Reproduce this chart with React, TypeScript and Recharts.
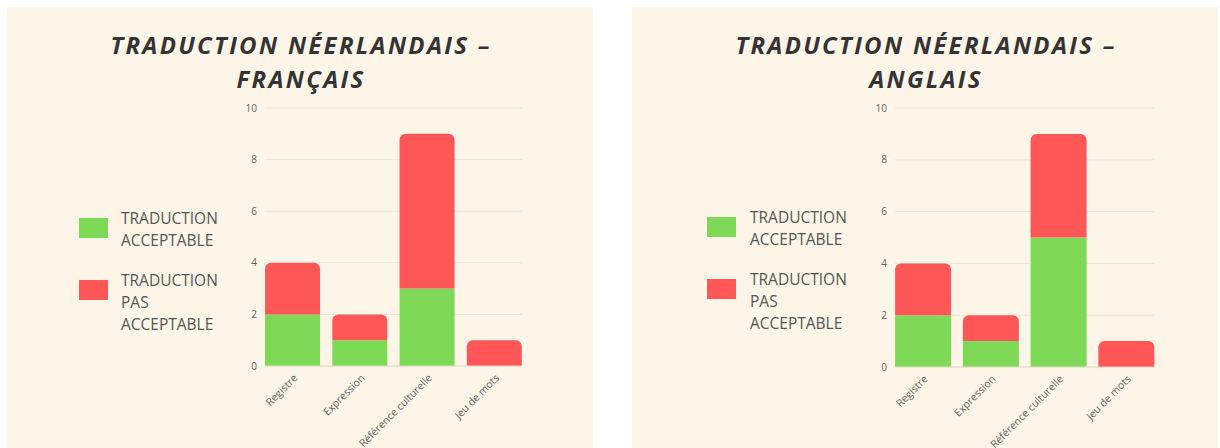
import React from "react";
import { BarChart, Bar, XAxis, YAxis, CartesianGrid, Legend } from "recharts";

const categories = ["Registre", "Expression", "Référence culturelle", "Jeu de mots"];
const frAcceptable = [2, 1, 3, 0];
const frNotAcceptable = [2, 1, 6, 1];
const enAcceptable = [2, 1, 5, 0];
const enNotAcceptable = [2, 1, 4, 1];
const yTicks = [0, 2, 4, 6, 8, 10];
const legendGreen = ["TRADUCTION", "ACCEPTABLE"];
const legendRed = ["TRADUCTION", "PAS", "ACCEPTABLE"];

const GREEN = "#7ed957";
const RED = "#ff5757";
const PANEL_BG = "#fdf5e7";

const XTick = (props: any) => {
  const { x, y, payload } = props;
  return (
    <g transform={`translate(${x + 3},${y + 10}) rotate(-45)`}>
      <text x={0} y={0} dy="0.35em" textAnchor="end" fontSize={10.5} fill="#626262" fontFamily="Open Sans">
        {payload.value}
      </text>
    </g>
  );
};

const LegendBox = ({ textLeft }: { textLeft: number }) => {
  const item = (color: string, lines: string[], gapTop: number) => (
    <div style={{ position: "relative", marginTop: gapTop, height: lines.length * 22 }}>
      <div style={{ position: "absolute", left: 0, top: 11, width: 29, height: 20, background: color }} />
      <div style={{ position: "absolute", left: textLeft, top: 0 }}>
        {lines.map((l, i) => (
          <div key={i} style={{ lineHeight: "22px", fontSize: 15.5, color: "#555", fontFamily: "Open Sans" }}>
            {l}
          </div>
        ))}
      </div>
    </div>
  );
  return (
    <div style={{ width: 160 }}>
      {item(GREEN, legendGreen, 0)}
      {item(RED, legendRed, 18)}
    </div>
  );
};

type PanelProps = {
  left: number;
  width: number;
  title: string[];
  acceptable: number[];
  notAcceptable: number[];
  margin: { top: number; left: number; right: number };
  xHeight: number;
  legendPos: { left: number; top: number };
  textLeft: number;
};

function Panel(p: PanelProps) {
  const data = categories.map((c, i) => ({ name: c, ok: p.acceptable[i], ko: p.notAcceptable[i] }));
  return (
    <div style={{ position: "absolute", left: p.left, top: 7, width: p.width, height: 460, background: PANEL_BG }}>
      <svg width={p.width} height={100} style={{ position: "absolute", left: 0, top: 0 }}>
        {p.title.map((t, i) => (
          <text
            key={i}
            x={294}
            y={47 + i * 34}
            textAnchor="middle"
            fontFamily="Open Sans"
            fontWeight={700}
            fontStyle="italic"
            fontSize={24}
            letterSpacing={2.3}
            fill="#363334"
          >
            {t}
          </text>
        ))}
      </svg>
      {/* chart is taller than the window so the long rotated label is cut by the page edge, like the reference */}
      <BarChart
        width={p.width}
        height={460}
        data={data}
        margin={{ top: p.margin.top, left: p.margin.left, right: p.margin.right, bottom: 0 }}
        barCategoryGap="9%"
        style={{ position: "absolute", left: 0, top: 0 }}
      >
        <CartesianGrid vertical={false} stroke="#eee5d6" />
        <XAxis
          dataKey="name"
          height={p.xHeight}
          interval={0}
          padding={{ left: -6, right: -6 }}
          tickLine={false}
          tickSize={0}
          tickMargin={0}
          axisLine={{ stroke: "#e2d9cb" }}
          tick={<XTick />}
        />
        <YAxis
          width={30}
          domain={[0, 10]}
          ticks={yTicks}
          axisLine={false}
          tickLine={false}
          tickSize={0}
          tickMargin={8}
          tick={{ fontSize: 10, fill: "#626262", fontFamily: "Open Sans" }}
        />
        <Legend
          layout="vertical"
          align="center"
          verticalAlign="middle"
          content={() => <LegendBox textLeft={p.textLeft} />}
          wrapperStyle={{ left: p.legendPos.left, top: p.legendPos.top, width: 160 }}
        />
        <Bar dataKey="ok" stackId="a" fill={GREEN} isAnimationActive={false} />
        <Bar dataKey="ko" stackId="a" fill={RED} radius={[6, 6, 0, 0]} isAnimationActive={false} />
      </BarChart>
    </div>
  );
}

export default function App() {
  return (
    <div style={{ position: "absolute", left: 0, top: 0, width: 1220, height: 448, background: "#fff", overflow: "hidden" }}>
      <Panel
        left={7}
        width={586}
        title={["TRADUCTION NÉERLANDAIS –", "FRANÇAIS"]}
        acceptable={frAcceptable}
        notAcceptable={frNotAcceptable}
        margin={{ top: 101, left: 228, right: 71 }}
        xHeight={101}
        legendPos={{ left: 72, top: 200 }}
        textLeft={42}
      />
      <Panel
        left={632}
        width={586}
        title={["TRADUCTION NÉERLANDAIS –", "ANGLAIS"]}
        acceptable={enAcceptable}
        notAcceptable={enNotAcceptable}
        margin={{ top: 101, left: 233, right: 64 }}
        xHeight={100}
        legendPos={{ left: 75, top: 199 }}
        textLeft={43}
      />
    </div>
  );
}
